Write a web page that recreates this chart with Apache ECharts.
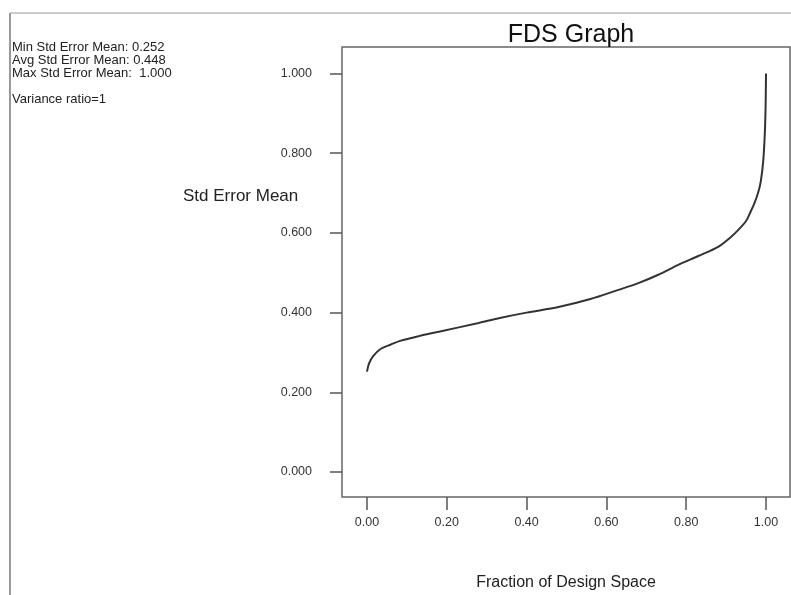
<!DOCTYPE html>
<html>
<head>
<meta charset="utf-8">
<script src="https://cdn.jsdelivr.net/npm/echarts@6/dist/echarts.min.js"></script>
<style>
  html, body { margin: 0; padding: 0; background: #fff; }
  #chart { width: 791px; height: 595px; }
</style>
</head>
<body>
<div id="chart"></div>
<script>
// fraction of design space (x) and std error mean (y)
var fraction = [0, 0.005, 0.015, 0.033, 0.06, 0.083, 0.13, 0.18, 0.28, 0.33, 0.40, 0.48, 0.56, 0.63, 0.68, 0.73, 0.78, 0.83, 0.88, 0.91, 0.93, 0.95, 0.96, 0.97, 0.98, 0.987, 0.993, 0.997, 0.999, 1.0];
var stdErr   = [0.252, 0.272, 0.290, 0.308, 0.320, 0.329, 0.341, 0.352, 0.374, 0.386, 0.400, 0.414, 0.434, 0.457, 0.474, 0.495, 0.520, 0.542, 0.565, 0.588, 0.607, 0.630, 0.650, 0.672, 0.700, 0.730, 0.780, 0.850, 0.920, 1.000];
var xTicks = [0, 0.2, 0.4, 0.6, 0.8, 1.0];
var yTicks = [0, 0.2, 0.4, 0.6, 0.8, 1.0];
var infoLines = ['Min Std Error Mean: 0.252', 'Avg Std Error Mean: 0.448', 'Max Std Error Mean:  1.000', '', 'Variance ratio=1'];

var myChart = echarts.init(document.getElementById('chart'));
var points = fraction.map(function (f, i) { return [f, stdErr[i]]; });

var option = {
    backgroundColor: '#fff',
    animation: false,
    title: {
        text: 'FDS Graph',
        left: 566,
        top: 18,
        textAlign: 'center',
        textStyle: { fontFamily: 'Liberation Sans', fontSize: 25, fontWeight: 'normal', color: '#111' }
    },
    grid: {
        left: 342, top: 47, right: 1, bottom: 98,
        outerBoundsMode: 'none',
        show: true, borderColor: '#666', borderWidth: 1.5
    },
    xAxis: {
        type: 'value',
        min: -0.0626, max: 1.0601,
        name: 'Fraction of Design Space',
        nameLocation: 'middle',
        nameGap: 78,
        nameTextStyle: { fontFamily: 'Liberation Sans', fontSize: 16, color: '#222' },
        axisLine: { show: false, onZero: false },
        splitLine: { show: false },
        axisTick: { show: true, length: 13, customValues: xTicks, lineStyle: { color: '#555', width: 1.5 } },
        axisLabel: {
            customValues: xTicks, margin: 19,
            fontFamily: 'Liberation Sans', fontSize: 12.5, color: '#333',
            formatter: function (v) { return v.toFixed(2); }
        }
    },
    yAxis: {
        type: 'value',
        min: -0.0627, max: 1.0665,
        axisLine: { show: false, onZero: false },
        splitLine: { show: false },
        axisTick: { show: true, length: 12, customValues: yTicks, lineStyle: { color: '#555', width: 1.5 } },
        axisLabel: {
            customValues: yTicks, margin: 30,
            fontFamily: 'Liberation Sans', fontSize: 12.5, color: '#333',
            formatter: function (v) { return v.toFixed(3); }
        }
    },
    graphic: [
        { type: 'line', shape: { x1: 10, y1: 13, x2: 10, y2: 595 }, style: { stroke: '#777', lineWidth: 1.5 } },
        { type: 'line', shape: { x1: 10, y1: 13, x2: 791, y2: 13 }, style: { stroke: '#999', lineWidth: 1 } },
        {
            type: 'text', left: 12, top: 41,
            style: { text: infoLines.join('\n'), fontFamily: 'Liberation Sans', fontSize: 13, lineHeight: 13, fill: '#222' }
        },
        {
            type: 'text', left: 183, top: 188,
            style: { text: 'Std Error Mean', fontFamily: 'Liberation Sans', fontSize: 17, fill: '#222' }
        }
    ],
    series: [{
        type: 'line',
        data: points,
        smooth: 0.3,
        showSymbol: false,
        lineStyle: { color: '#333', width: 2 }
    }]
};
myChart.setOption(option);
</script>
</body>
</html>
